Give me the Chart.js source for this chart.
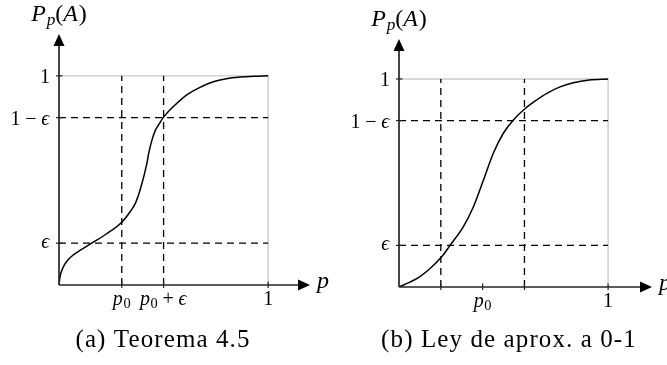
<!DOCTYPE html>
<html>
<head>
<meta charset="utf-8">
<script src="https://cdn.jsdelivr.net/npm/chart.js@4.4.1/dist/chart.umd.min.js"></script>
<style>
  html, body { margin: 0; padding: 0; background: #fff; }
  #fig { position: relative; width: 667px; height: 365px; overflow: hidden; background: #fff; }
  #fig canvas { position: absolute; top: 0; }
</style>
</head>
<body>
<div id="fig">
  <canvas id="panelA" width="340" height="365" style="left:0"></canvas>
  <canvas id="panelB" width="327" height="365" style="left:340px"></canvas>
</div>
<script>
// ---- Panel (a): Teorema 4.5 ----
const epsA = 0.2;
const p0A = 0.3;
const pA    = [0, 0.005, 0.02, 0.04, 0.07, 0.10, 0.156, 0.228, 0.30, 0.34, 0.365, 0.388, 0.42, 0.43, 0.445, 0.46, 0.48, 0.498, 0.547, 0.611, 0.68, 0.738, 0.80, 0.866, 0.93, 1];
const probA = [0, 0.04, 0.085, 0.117, 0.145, 0.165, 0.20, 0.245, 0.30, 0.35, 0.39, 0.455, 0.58, 0.635, 0.695, 0.738, 0.772, 0.80, 0.853, 0.909, 0.948, 0.972, 0.986, 0.994, 0.998, 1];
const xTicksA = [p0A, p0A + epsA, 1];
const xLabelsA = ['p_0', 'p_0 + \u03f5', '1'];
const yTicksA = [epsA, 1 - epsA, 1];
const yLabelsA = ['\u03f5', '1 \u2212 \u03f5', '1'];
const captionA = '(a) Teorema 4.5';

// ---- Panel (b): Ley de aproximación a 0-1 ----
const epsB = 0.2;
const p0B = 0.4;
const pB    = [0, 0.05, 0.10, 0.15, 0.204, 0.244, 0.308, 0.356, 0.404, 0.451, 0.499, 0.547, 0.605, 0.66, 0.707, 0.77, 0.834, 0.91, 1];
const probB = [0, 0.022, 0.05, 0.09, 0.145, 0.20, 0.29, 0.386, 0.514, 0.643, 0.739, 0.803, 0.859, 0.90, 0.931, 0.962, 0.982, 0.995, 1];
const xTicksB = [p0B - epsB, p0B, p0B + epsB, 1];
const xLabelsB = ['', 'p_0', '', '1'];
const yTicksB = [epsB, 1 - epsB, 1];
const yLabelsB = ['\u03f5', '1 \u2212 \u03f5', '1'];
const captionB = '(b) Ley de aprox. a 0-1';

const SERIF = '"Liberation Serif", "DejaVu Serif", serif';
const INK = '#000';

// Split a label like "P_p(A)" into glyph runs: letters italic, "_" makes the next glyph a subscript.
function layoutMath(ctx, str, size) {
  const runs = [];
  for (let i = 0; i < str.length; i++) {
    let ch = str[i], sub = false;
    if (ch === '_') { sub = true; ch = str[++i]; }
    const italic = /[A-Za-z\u03f5]/.test(ch);
    const fs = sub ? size * 0.72 : size;
    const font = (italic ? 'italic ' : '') + fs + 'px ' + SERIF;
    ctx.font = font;
    const m = ctx.measureText(ch);
    let w = ch === ' ' ? size * 0.24 : m.width;
    if (italic && !sub) w += size * 0.03;
    runs.push({ ch, sub, font, w, asc: sub ? 0 : m.actualBoundingBoxAscent });
  }
  return runs;
}

function mathAscent(ctx, str, size) {
  return Math.max(...layoutMath(ctx, str, size).map(r => r.asc));
}

function drawMath(ctx, str, x, y, size, align) {
  const runs = layoutMath(ctx, str, size);
  const total = runs.reduce((s, r) => s + r.w, 0);
  let cx = align === 'right' ? x - total : align === 'center' ? x - total / 2 : x;
  ctx.textAlign = 'left';
  ctx.textBaseline = 'alphabetic';
  for (const r of runs) {
    if (r.ch !== ' ') {
      ctx.font = r.font;
      ctx.fillText(r.ch, cx, y + (r.sub ? size * 0.15 : 0));
    }
    cx += r.w;
  }
}

// Axes with arrowheads, tick marks, tick labels, axis names and the panel caption.
const figurePlugin = {
  id: 'figure',
  afterDatasetsDraw(chart, args, o) {
    const { ctx, chartArea: area } = chart;
    const xs = chart.scales.x, ys = chart.scales.y;
    const x0 = xs.getPixelForValue(0), y0 = ys.getPixelForValue(0);
    ctx.save();

    ctx.strokeStyle = '#262626';
    ctx.lineWidth = 1.7;
    ctx.beginPath();
    ctx.moveTo(x0, y0); ctx.lineTo(area.right - 8, y0);
    ctx.moveTo(x0, y0); ctx.lineTo(x0, area.top + 8);
    ctx.stroke();

    ctx.fillStyle = '#000';
    ctx.beginPath();
    ctx.moveTo(area.right, y0);
    ctx.lineTo(area.right - 12, y0 - 5.5);
    ctx.lineTo(area.right - 12, y0 + 5.5);
    ctx.closePath(); ctx.fill();
    ctx.beginPath();
    ctx.moveTo(x0, area.top);
    ctx.lineTo(x0 - 5.5, area.top + 12);
    ctx.lineTo(x0 + 5.5, area.top + 12);
    ctx.closePath(); ctx.fill();

    ctx.strokeStyle = '#222';
    ctx.lineWidth = 1.2;
    o.xTicks.forEach(v => {
      const px = xs.getPixelForValue(v);
      ctx.beginPath(); ctx.moveTo(px, y0 - 3.5); ctx.lineTo(px, y0 + 3); ctx.stroke();
    });
    o.yTicks.forEach(v => {
      const py = ys.getPixelForValue(v);
      ctx.beginPath(); ctx.moveTo(x0 - 3, py); ctx.lineTo(x0 + 3.5, py); ctx.stroke();
    });

    ctx.fillStyle = INK;
    const fs = o.tickSize;
    o.xLabels.forEach((lab, i) => {
      if (!lab) return;
      drawMath(ctx, lab, xs.getPixelForValue(o.xTicks[i]), y0 + 20, fs, 'center');
    });
    o.yLabels.forEach((lab, i) => {
      const py = ys.getPixelForValue(o.yTicks[i]);
      drawMath(ctx, lab, x0 - 9, py + mathAscent(ctx, lab, fs) / 2, fs, 'right');
    });

    drawMath(ctx, 'p', area.right + 7, y0 + 3, o.nameSize, 'left');
    drawMath(ctx, 'P_p(A)', x0, area.top - 13, o.nameSize, 'center');

    ctx.font = o.captionSize + 'px ' + SERIF;
    if ('letterSpacing' in ctx) ctx.letterSpacing = '1.1px';
    ctx.textAlign = 'center';
    ctx.textBaseline = 'alphabetic';
    ctx.fillText(o.caption, o.captionX, 347);
    ctx.restore();
  }
};

function segment(x1, y1, x2, y2) { return [{ x: x1, y: y1 }, { x: x2, y: y2 }]; }

function makePanel(id, p) {
  const dash = { borderColor: '#000', borderWidth: 1.3, borderDash: [7, 5], order: 1 };
  const datasets = [
    {
      data: p.xs.map((v, i) => ({ x: v, y: p.ys[i] })),
      borderColor: '#000', borderWidth: 1.5, cubicInterpolationMode: 'monotone', order: 0
    },
    ...p.hLines.map(v => ({ ...dash, data: segment(0, v, 1, v) })),
    ...p.vLines.map(v => ({ ...dash, data: segment(v, 0, v, 1) })),
    { data: [{ x: 0, y: 1 }, { x: 1, y: 1 }, { x: 1, y: 0 }], borderColor: '#cccccc', borderWidth: 1.4, order: 2 }
  ];
  return new Chart(document.getElementById(id), {
    type: 'line',
    data: { datasets },
    options: {
      responsive: false,
      animation: false,
      devicePixelRatio: 1,
      layout: { padding: p.pad },
      elements: { point: { radius: 0, hoverRadius: 0 }, line: { fill: false } },
      scales: {
        x: { type: 'linear', min: 0, max: p.xMax, display: false },
        y: { type: 'linear', min: 0, max: p.yMax, display: false }
      },
      plugins: {
        legend: { display: false },
        tooltip: { enabled: false },
        figure: {
          xTicks: p.xTicks, xLabels: p.xLabels, yTicks: p.yTicks, yLabels: p.yLabels,
          caption: p.caption, captionX: p.captionX,
          tickSize: 20, nameSize: 24, captionSize: 25
        }
      }
    },
    plugins: [figurePlugin]
  });
}

makePanel('panelA', {
  xs: pA, ys: probA,
  hLines: [epsA, 1 - epsA], vLines: [p0A, p0A + epsA],
  xTicks: xTicksA, xLabels: xLabelsA, yTicks: yTicksA, yLabels: yLabelsA,
  caption: captionA, captionX: 163,
  pad: { left: 59, right: 30, top: 34, bottom: 80 }, xMax: 1.2, yMax: 1.2
});

makePanel('panelB', {
  xs: pB, ys: probB,
  hLines: [epsB, 1 - epsB], vLines: [p0B - epsB, p0B + epsB],
  xTicks: xTicksB, xLabels: xLabelsB, yTicks: yTicksB, yLabels: yLabelsB,
  caption: captionB, captionX: 169,
  pad: { left: 59, right: 15, top: 39, bottom: 78 }, xMax: 1.21, yMax: 1.192
});
</script>
</body>
</html>
